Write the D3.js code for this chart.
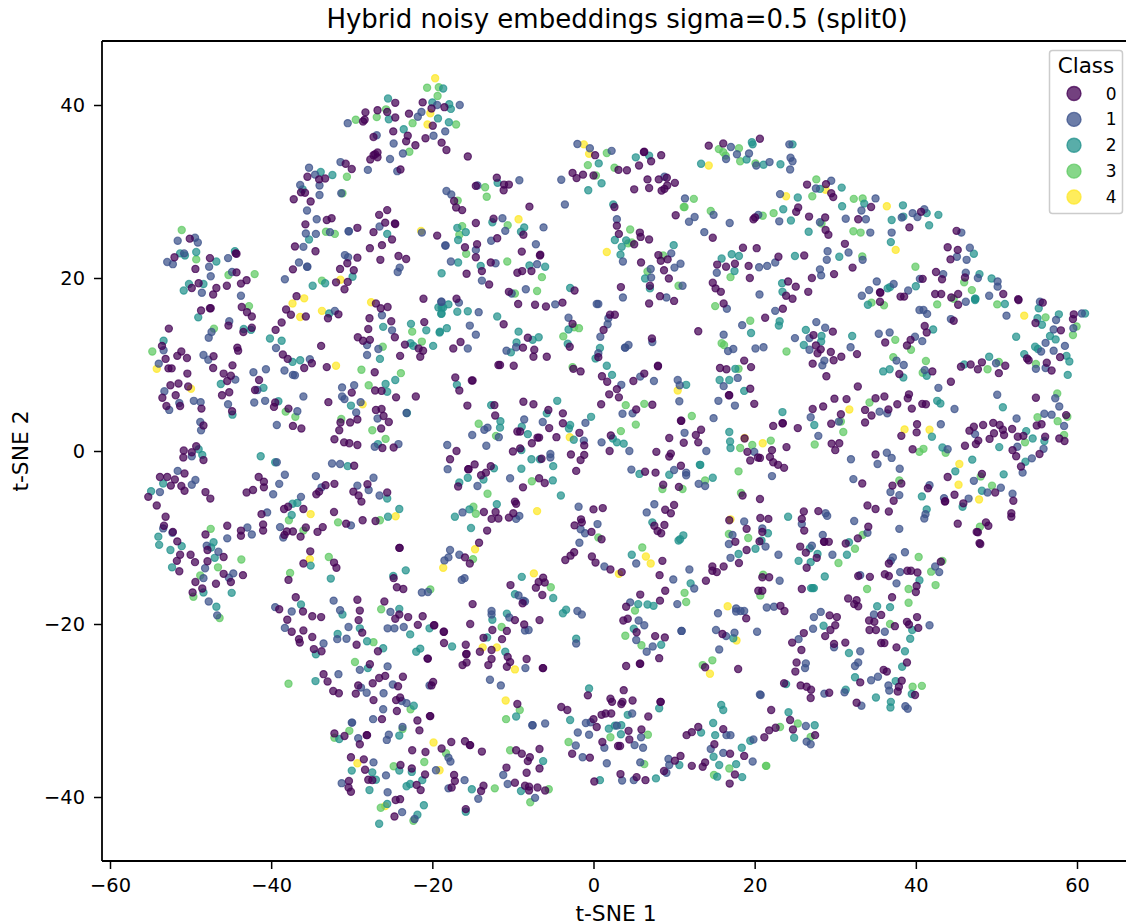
<!DOCTYPE html>
<html><head><meta charset="utf-8">
<script src="https://cdnjs.cloudflare.com/ajax/libs/d3/7.8.5/d3.min.js"></script>
<style>html,body{margin:0;padding:0;background:#fff}svg{display:block}text{font-family:"DejaVu Sans",sans-serif;fill:#000}</style>
</head><body><svg id="c" width="1126" height="923"></svg>
<script>
const chartTitle = "Hybrid noisy embeddings sigma=0.5 (split0)";
const xLabel = "t-SNE 1", yLabel = "t-SNE 2", legendTitle = "Class";
const xTicks = [-60,-40,-20,0,20,40,60];
const yTicks = [-40,-20,0,20,40];
const classNames = ["0","1","2","3","4"];
const classColors = ["#440154","#3b528b","#21918c","#5ec962","#fde725"];

const class0 = [[26.5,30.8],[28.85,30.85],[29.5,29.8],[29.75,29.35],[25.4,28.15],[25.15,27.65],[19.85,26.8],[20.05,27],
[-28.3,39.15],[-28.6,38.1],[-28.4,38.3],[-26.8,39.4],[-27.3,36.3],[-27.1,34.3],[-26.8,34.5],[-27.3,34.2],[-26.8,33.95],[-27.7,33.7],[-30.75,33.2],[-30,32.6],[-35.5,31.7],[-34.05,31.4],[-33.3,31.5],[-36.3,29.9],[-35.8,29.85],[-37.2,29.1],[-35.1,28.85],[-26.6,27.3],
[-50.1,24.55],[-52,22.4],[-47.6,22.3],[-44.4,22.85],[-44.3,22.8],[-49.4,21.05],[-44.3,20.65],[-49,19.4],[-49.85,18.85],[-46.8,18.85],[-47.2,18.1],[-45.5,19.1],[-43.75,19.35],[-43.05,19.75],[-48.7,16.25],[-47.6,16.5],[-47.5,16.5],[-43.65,16.65],[-43,16.05],[-42.4,15.55],[-45.3,14.5],[-43.45,13.75],[-42.4,14.25],[-52.7,14.15],[-53.55,12.15],[-51.15,11.5],[-51.65,11],[-50.45,10.75],[-53.1,10.65],[-47.15,10.95],[-44.2,11.95],[-44.1,11.6],[-52.75,9.55],[-52.35,9.55],[-47.2,9.6],[-44.8,9.9],[-50.4,8.95],[-45.9,8.95],[-45,8.7],[-45.45,8.1],[-52.5,7.6],[-51.5,7.8],[-50.3,7.45],[-51.85,6.45],[-53.5,6.15],[-45.2,6.8],[-46.1,6.45],[-51.3,5.2],[-53,5.2],[-48.65,4.9],[-44.85,4.6],[-48.4,2.95],[-42,7.05],[-41.5,8.2],[-39.5,5.6],[-39.65,5.1],[-37.85,4.9],[-37.3,2.9],[-36.25,2.6],[-32.9,5.65],[-30,6.75],[-31.4,3.3],[-30.2,3.3],[-29.3,3.65],[-31.55,2.4],[-26.35,2.6],[-27,4.75],[-26.3,4.85],[-26.05,4.05],[-25.4,3.35],[-32.15,1.35],[-30.95,1],[-30.3,0.9],[-29.3,0.7],[-26.2,0.35],[-24.8,0.4],[-50.85,0.05],[-49.3,0.55],[-49.85,-0.15],[-50.9,-0.75],[-48.4,-1.05],[-29.7,-1.7],[-50.75,-2.6],[-53.8,-3],[-52.9,-3],[-51.95,-3.3],[-52.45,-4],[-51.15,-4.05],[-50.75,-4.6],[-55.25,-5.3],[-54.2,-6.3],[-48.15,-4.75],[-47.55,-5.5],[-41.55,-3],[-40.9,-3.55],[-40.9,-4.2],[-42.25,-4.5],[-43.05,-4.8],[-33.25,-3.95],[-34.05,-4.7],[-34.4,-5],[-32.15,-3.8],[-28.05,-3.85],[-29.8,-4.7],[-29.15,-5.15],[-28.8,-5.85],[-25.6,-4.8],[-37.9,-6.45],[-38.4,-6.7],[-36,-6.7],
[-35.75,26.2],[-33.1,26.7],[-32.5,26.9],[-29.3,25.8],[-27.3,25.3],[-25.85,26.4],[-24.6,26.25],[-25,24.45],[-26.25,23.8],[-27.75,23.45],[-19.4,24.9],[-37.05,23.65],[-34.5,23.1],[-29.3,22.35],[-24.2,22.55],[-23.25,22.2],[-26.45,22.1],[-30.55,21.7],[-37.3,21],[-31.45,21.05],[-29.75,20.9],[-31.95,19.5],[-30.5,19.55],[-30.9,18.7],[-36.85,17.9],[-38.15,16.35],[-37.55,15.75],[-35.7,15.55],[-32.95,15.35],[-31.65,15.8],[-38.7,14.85],[-39.45,14],[-33.8,12.15],[-38.55,11.15],[-37.95,10.65],[-34.95,10.15],[-35.9,9.6],[-33.1,9.7],[-27.15,9.1],[-27.1,7],[-26.3,6.95],[-24.5,6.2],[-22.05,6.3],[-27,17.05],[-26.4,16.5],[-25.55,16.65],[-21.1,17.6],[-27.8,15.35],[-25.1,15],[-27.95,14.1],[-21,14.9],[-29.25,13.15],[-28.6,12.75],[-27.75,12.85],[-24.65,13.15],[-23.4,12.3],[-21.7,11.85],[-21.15,11.6],[-21.5,10.9],[-24,11],
[-24.6,40.25],[-21.2,40.3],[-18.5,39.75],[-20.1,39.6],[-25.6,39.2],[-24.6,38.55],[-22.9,39],[-19.95,37.6],[-24.85,36.95],[-20.85,36.15],[-23.05,36.45],[-23.25,35.8],[-22.1,35.35],[-18.85,35.65],[-18.25,34.8],[-15.6,34.05],[-23.95,32.55],[-12,31.6],[-14.6,30.65],[-11.1,30.8],[-10.5,30.8],[-11.15,30.15],[-17.3,28.9],[-17.05,28.15],[-16.3,27.85],[-7.95,28.25],[-12.4,26.85],[-14.6,26.35],[-8.7,25],[-11.95,24.6],[-14.45,23.9],[-15.95,23.55],[-25.6,27.85],[-24.65,26.3],[0.2,34.2],[3.1,32.5],[4.15,32.45],[-2.6,32.15],[-2.1,31.55],[-1.3,31.95],[0,31.85],[2.6,28.2],[2.9,26.05],[3.15,25.1],
[14.3,35.3],[16.1,35.55],[20.65,36.1],[6.25,34.55],[6.3,34.6],[8.4,34.2],[7.15,33.5],[5.65,33],[6.7,31.4],[8.1,31.4],[9.1,31.6],[10.1,31],[9.15,30.7],[8.8,30.3],[8.45,30.1],[6.9,30.4],[5.05,30.25],[10.2,27.25],[14.8,24.65],[5.75,25.25],[5.85,24.75],[6.9,24.45],[5.05,23.9],[8.05,22.65],[8.35,22],[9.2,22.15],[5.9,21.8],[8.75,20.9],[9.35,19.95],[7,19.1],[8.25,17.9],[10,17.35],[18.55,23.5],[20.25,23.45],[15.35,21.55],[16.45,21.3],[17.55,21.65],[19.25,21.4],[22.95,22.45],[26.15,22.6],[19.4,20],[14.8,19.45],[15.15,18.8],[15.8,18.4],[24.15,19.6],[25.1,19],[23.9,17.95],[24.7,17.6],[26.65,18.4],[27.1,20],[29.85,20.45],[32.15,21.2],[31.2,23.95],[28.75,27],[26.75,27.1],[28.8,25.55],[29.15,25],[32.85,26.8],[34.45,28.2],[39.2,25.85],[40.65,27.65],[45.05,25.45],[43.95,23.55],[45.2,23.25],[44.3,22.15],[42.5,20.7],[40.85,19.9],[43.25,19.85],[46.1,20.05],[35.55,18.35],[35.6,18.3],[38.1,17.85],[38.55,17.85],[42.4,18.15],[43.15,18.15],[44.4,17.75],[45.25,18.15],[50.85,18.15],[52.7,17.55],
[21.3,15.4],[23.5,16.45],[29.7,13.8],[27.3,13.4],[27.6,12.2],[28.2,11.75],[27.8,11.3],[29.45,11.45],[30.75,10.9],[29.8,10.5],[27.2,10.1],[28.9,8.65],[32.7,11.2],[35.55,17.25],[45.25,16.9],[44.7,15.05],[52.75,17.45],[55.75,17.15],[54.85,14.8],[59.6,15.8],[59.5,15.25],[58,13.95],[53.8,10.7],[54,10.5],[57.9,10.85],[56.25,10.2],[56.85,9.3],[36.2,12.55],[41.1,14.45],[41.35,13.7],[39.35,12.85],[38.9,12.2],[37.95,8.9],[42.05,9.2],[45.6,9.75],[46.8,10],[48.2,10.25],[51.1,9.85],[47.7,9.45],[50.3,9],[44.35,8],[32.8,7.45],[54.9,6.15],[39.15,6.55],[39,6.1],[36.1,6.3],[35,6.1],[31.4,6],[29.9,6.05],[28.5,5.15],[27.2,4.85],[33.7,4.75],[37.7,5.4],[39.5,4.9],[40.8,5.45],[41.25,5.4],[36.6,4.8],[34.5,4.1],[30.7,4.25],[23.45,3.2],[23.5,3.2],[22.3,2.9],[25.35,2.65],[29.5,3.15],[33.7,3.3],[29.55,0.85],[30.5,0.9],[30,0.1],[40.15,3.1],[40.1,2.15],[38.2,1.75],[22.15,0.1],[23.95,0.45],[21.9,-0.7],[22.3,-1.3],[22.9,-1.6],[23.65,-1.95],[20.66,-0.8],[39.6,0.2],[46.1,0.6],[46.65,2.35],[47.2,2.8],[48.35,3],[47.75,1.2],[47.45,0.8],[49.6,3.25],[50.4,3],[49.7,2.05],[49.15,1.4],[50.8,2.45],[50.95,1.85],[51.95,2.55],[52.65,1.65],[53.35,1.75],[55,2.95],[55.6,3.1],[58.65,4.15],[57.8,1.45],[58.45,1.15],[56.05,1.65],[52,0.1],[52.45,-0.6],[55.35,-0.35],[53.05,-1.8],[35,-0.4],[43.95,-3],[48.2,-2.65],[49.85,-4.8],[52.1,-5.75],[44.8,-5.05],[43.65,-5.8],[51.85,-7.2],[51.85,-7.6],[48.7,-8.25],[49,-8.65],[47.7,-9.4],[48,-10.75],[33.35,-3.75],[37.1,-4],[38.2,-3.75],[37.25,-5.75],[41.5,-4.3],[20.66,-5.55],
[-14.6,22.4],[-8.9,23.05],[-12.75,21.8],[-6.65,22.6],[-6.6,22.7],[-15.75,20.5],[-13.85,20.8],[-9.45,20.6],[-8.85,20.8],[-7.7,20.8],[-12.95,19.25],[3.4,18.95],[-10.5,18.4],[-2.35,18.55],[-17,17.6],[-9.35,17],[-7.25,16.9],[-5.9,16.7],[-3.85,17.15],[-11.15,14.65],[-2.6,14.7],[2.05,15.75],[2.65,15.75],[1.25,14],[-16.5,12.6],[-17.4,11.85],[-8.15,13.1],[-8.75,11.95],[-7.35,11.7],[-7.45,10.9],[-5.8,10.9],[-2.95,12.05],[0.6,10.85],[7.25,13],[-11.6,9.95],[-11.8,9.95],[-9.9,9.85],[-2.5,9.5],[-1.6,9.2],[1.05,8.65],[1.7,8],[2.9,7.15],[1.95,6.55],[3.15,6.2],[0.95,5.4],[-17.15,8.5],[-15.1,8.15],[-15,8.15],[-16.65,7],[4.95,8.1],[6.3,8.95],[8,9.8],[8,9.85],[13,13.85],[15.7,9.6],[6.9,17.05],[16.15,17.05],[18.7,10.45],[16.5,9.45],[19.55,9.7],[19.45,7.2],[16.8,6.45],[16.85,6.45],[19.95,5.45],
[-15.65,5.25],[-12.3,5.3],[-8.7,5.7],[-7.45,5.4],[-5.6,4.75],[-3.8,4.35],[-12.2,4.1],[-9.45,2.25],[-9.1,2.25],[-5.5,2.65],[-3.8,3.2],[-1.75,2.1],[-6.95,1.55],[-6.75,1.55],[-4.6,1.6],[-1.15,0.65],[-7.65,0.9],[7.3,5.35],[5.3,4.8],[2.15,1.8],[2,0],[10.85,3.5],[10.9,3.5],[13.35,2.45],[12.7,1.85],[9.4,1.5],[11.2,0.95],[13,1],[18.75,1.45],[19.1,-0.1],[19.45,-1.1],[20.4,-0.75],[-17,0],[-17.8,-0.95],[-10,-0.05],[-9.1,0.3],[-6.45,-0.9],[-2.8,-0.4],[-1.15,-0.45],[-1.6,-1.05],[-2.15,-2.3],[-14.75,-1.55],[-15.55,-2.1],[-15.5,-2.1],[-12.75,-1.75],[-13.35,-2.5],[-13.95,-2.8],[-16.8,-4.1],[-6.75,-3.15],[-6.05,-3.7],[-8.75,-4.2],[7.8,-0.1],[9.6,-0.3],[9.4,-0.65],[10.85,-1.7],[6.4,-2.4],[7.7,-2.5],[8.65,-3.9],[10.6,-4.15],[18.5,-5.15],
[-53.1,-7.6],[-53.3,-8.65],[-52.2,-9.35],[-51.65,-10.45],[-51.3,-12],[-50,-12],[-51.7,-12.7],[-49.45,-12.85],[-51.4,-13.9],[-48.15,-9.65],[-45.45,-8.65],[-43.75,-9.2],[-43.75,-9.8],[-41,-8.5],[-41,-9.2],[-47.9,-11.45],[-45.9,-12.25],[-47.9,-12.75],[-45.9,-14.2],[-43.5,-14.35],[-45,-15.15],[-46.85,-15.35],[-49.4,-15.15],[-48.55,-15.9],[-49.75,-16.35],[-41.2,-7.3],[-38.35,-9.7],[-38.05,-9.3],[-37.3,-9.3],[-36.35,-9.9],[-35.7,-8.85],[-34.25,-9.35],[-33.6,-8.8],[-32.2,-7.05],[-30.7,-8.4],[-28.65,-8],[-27.05,-8.1],[-35.15,-11.6],[-36,-13],[-32.2,-12.9],[-31.9,-13.5],[-37.85,-14.9],[-24.1,-11.2],[-24.05,-11.2],[-24.8,-14.7],[-24.4,-15.75],[-23.6,-15.95],[-15.95,-12.3],[-36.95,-16.9],[-39,-18.3],[-36.05,-18.55],[-38,-19.5],[-34.9,-19.1],[-33.8,-19.2],[-36,-20.75],[-37.45,-20.9],[-34.9,-21.5],[-36.55,-21.75],[-36.45,-22.15],[-34.7,-22.9],[-33.75,-23.15],[-29.3,-17.2],[-29,-18.45],[-29.15,-19.55],[-28.7,-21],[-29.4,-22.4],[-26.75,-23.15],[-25.95,-17.4],[-24.1,-18.9],[-24.6,-19.4],[-23,-19.2],[-21.2,-19.1],[-21.8,-20.1],[-19.8,-20.15],[-19.75,-20.15],[-18.6,-20.9],[-18.55,-20.9],[-18.55,-22.2],[-15.85,-22.4],[-15.8,-23.5],[-15.75,-23.45],[-20.6,-24],[-20.55,-24],[-27.75,-24.65],[-33.5,-25.8],[-33,-26.65],[-32.3,-27.75],[-31.6,-28],[-29.5,-28.05],[-29.2,-27.1],[-27.4,-26.85],[-26.6,-26.25],[-25.85,-26],[-23.65,-26.1],[-24.25,-27.2],[-27.3,-28.8],[-19.9,-26.7],[-20.1,-27.1],[-24,-28.5],[-24.5,-28.8],[-24.4,-30.05],[-20.3,-30.65],[-20.25,-30.65],[-26.25,-31],[-21.85,-31.15],[-21.6,-32.3],[-32.15,-32.65],[-30.9,-32.95],[-28.15,-32.85],[-28.1,-32.85],[-29,-33.9],[-17.65,-33.65],[-15.95,-33.55],[-18.85,-34.4],[-22.5,-34.6],[-20.85,-34.8],[-30.1,-35.4],[-28.5,-35.65],[-28.35,-36.85],[-23.95,-36.3],[-22.55,-36.7],[-20.9,-37.4],[-27.95,-38],[-27.45,-38.05],[-30.35,-38.15],[-30.4,-38.9],[-30.1,-39.4],[-21.95,-38.6],[-21.45,-39.2],[-17.3,-37.45],[-17.2,-38.15],[-17.6,-38.9],[-24.55,-40.35],[-24,-40.25],[-24.7,-42.25],
[-9.75,-5.85],[-9.6,-6.1],[-13.6,-7.05],[-12.15,-7.05],[-12.65,-7.85],[-11.8,-7.8],[-10.5,-7.7],[-9.95,-7.2],[-13.2,-9.2],[-14.2,-10.6],[-15.35,-13],[0,-6.75],[1.15,-6.6],[-1.55,-7.9],[-1.45,-8.25],[-2.35,-8.6],[-0.25,-9.35],[1,-10.2],[-2.4,-11.7],[-2.85,-12.1],[-3.5,-12.6],[-0.2,-12.2],[0.25,-12.9],[2.1,-13.7],[3.5,-14],[8.9,-6.8],[10,-6.25],[9.6,-7.2],[7.55,-8.65],[7.95,-9.25],[8.8,-8.55],[8.4,-9.5],[8.55,-12.7],[8.2,-14.35],[8.9,-16.15],[8.25,-17.3],[5.8,-16.6],[4.05,-18],[3.7,-19.6],[4.25,-19.4],[5.35,-20.95],[7.65,-21.4],[8.85,-21.55],[8.15,-23.95],[5.75,-24.6],[5.8,-24.6],[4.05,-24.85],[-6.25,-14.65],[-6.8,-15.15],[-6.05,-15.2],[-7.15,-15.8],[-10.3,-15.5],[-6.35,-16.65],[-8.8,-17.6],[-15,-17.7],[-9.75,-19.55],[-6.7,-19.55],[-15.3,-20],[-8.6,-20.05],[-12.55,-20.7],[-10.75,-20.8],[-13.65,-21.6],[-11.35,-21.75],[-14.1,-23.2],[-12.65,-23],[-10.65,-23.8],[-10.35,-24.4],[-12.65,-24.05],[-8.3,-24.05],[-15.75,-24.45],[-16.25,-24.75],[-13.05,-24.75],[-10.75,-24.95],[-6.3,-25.1],[-6.25,-25.1],[-9.45,-29.25],[-4,-29.6],[-3.25,-29.95],[-0.7,-28.25],[3.75,-27.65],[2.1,-28.65],[2.3,-29],[4.85,-28.85],[3.6,-29],[3.45,-29.25],[8.3,-29],[8.35,-29],[2.2,-30.35],[1.5,-30.35],[1,-30.5],[6.8,-30.7],[0,-31],[0.4,-31.9],[4.35,-32.35],[5.95,-32.2],[4.45,-33.35],[1.1,-33.65],[3.05,-34.1],[3.3,-34.1],[-2.65,-35],[-0.45,-35.45],[10.1,-35.8],[10.8,-35.25],[8.75,-37],[12.2,-36.4],[3.35,-37.35],[5.35,-37.7],[6.45,-38.05],[0.1,-38.2],[-15.35,-34],[-15.3,-34],[-13.85,-34.75],[-9.6,-34.6],[-8.9,-35],[-7.9,-35.4],[-8.15,-35.85],[-6.7,-34.45],[-10.8,-36.6],[-6.7,-36.7],[-8.3,-37.2],[-9.75,-38.35],[-13.65,-38.7],[-13.95,-39.3],[-8.5,-38.7],[-8,-38.8],[-8,-39.25],[-6.95,-38.9],[-6,-39.25],[-15.85,-41.4],[11.55,-32.85],[12.2,-32.5],[13,-31.9],
[16.85,-8],[20.7,-7.75],[21.7,-7.85],[19,-9],[20.95,-9.35],[17.6,-10.5],[20.6,-10.45],[19,-11.45],[18.05,-12.95],[14.75,-13.35],[14.75,-13.85],[15.3,-14],[16.15,-13.35],[13.95,-15],[20.95,-14.6],[21.8,-14.6],[20.45,-16.15],[20.95,-16.15],[25.85,-15.95],[18.95,-19.35],[23.2,-17.9],[23.7,-18.5],[16,-21.15],[13.85,-25],[17.95,-25.2],[26.1,-7],[27.9,-6.95],[25.85,-7.85],[26.15,-9.2],[28.6,-10.5],[28.65,-10.5],[29.2,-10.5],[34.1,-8.75],[32.8,-10.1],[31.3,-10.7],[25.65,-11.05],[26.35,-11.75],[27.7,-12.35],[26.45,-13.5],[34,-6.3],[35,-6.7],[36.65,-7],[45.2,-8.4],[45.9,-6.05],[43.6,-5.85],[47.55,-9.35],[47.9,-10.65],[36.65,-13],[43.1,-12.8],[40.2,-14.05],[39.4,-13.85],[38.95,-13.85],[36.15,-14.25],[36.65,-14.45],[40.1,-15.6],[40,-16.3],[37.05,-16.9],[34.3,-14.55],[32.85,-14.45],[31.6,-17.05],[32.65,-17.25],[32.35,-17.7],[32.85,-17.95],[29.3,-19],[30.2,-19.2],[30,-20.15],[29.4,-20.7],[28.75,-21.4],[26.1,-21.05],[24.65,-22.15],[25.8,-23],[25.2,-24.45],[25.05,-25.5],[29.85,-22.3],[31.25,-22.15],[35.7,-18.95],[34.2,-19.6],[34.85,-19.75],[34.25,-20.7],[35.05,-20.7],[37.4,-20.25],[38.9,-19.75],[39.15,-20.05],[40.15,-19.2],[40.3,-20.45],[35.7,-22.2],[36.1,-22.2],[37.6,-22.7],[38.9,-24.45],[36,-25.3],[36.4,-25.5],[33.1,-26.75],[38.25,-26.55],[37.9,-27.25],[37.75,-27.8],[39.9,-28.2],[29.25,-27.95],[32.65,-29.1],[23.65,-26.85],[25.7,-27.1],[26.45,-27.25],[27,-27.6],[26.95,-28.55],[22.05,-29.95],[16.1,-32.15],[24.4,-31.1],[24.75,-32.2],[22.6,-32],[21.8,-32.3],[21.2,-33.1],[27.5,-32.85],[15,-33.9],[16.95,-35],[18.7,-35.25],[13.85,-36],[13.55,-36.5],[17.55,-37.4],[16.9,-38.45]];

const class1 = [[29.5,31.25],[27.6,30.35],[23.15,29.7],[23.05,26.55],[20.45,27.3],
[-30.5,37.9],[-26.9,36.5],[-31.4,33.4],[-28,32.5],[-35.3,32.75],[-34.55,31.95],[-36.4,30.75],[-34,30.7],[-34,29.6],[-31.3,29.8],[-35.55,27.8],[-34.35,26.8],
[-49.45,24.65],[-51.6,24.3],[-49.1,24.1],[-50.8,22.85],[-52.9,21.85],[-52.2,21.6],[-47.7,21.3],[-45.35,22.3],[-47.5,20.2],[-44.85,20.7],[-48.6,18.3],[-43.75,17.95],[-45.2,15],[-47.4,13.75],[-47.75,13.1],[-53.35,11.65],[-48.4,11.1],[-47.8,10.55],[-53.95,10.1],[-44.45,8.25],[-42.2,9.1],[-40.65,9.45],[-53.25,6.9],[-49.6,5.8],[-48.75,5.65],[-51.4,5.55],[-52.65,4.75],[-45.35,5.4],[-48.8,3.35],[-48.7,2.4],[-42.1,5.6],[-40.75,5.8],[-41.7,7.05],[-36.75,4.6],[-39.3,3],[-36,6.3],[-31.2,7.35],[-29.7,7.6],[-31.2,6.3],[-30.9,6],[-28.9,5.65],[-29.45,4.45],[-26.8,3.75],[-23.2,4.4],[-27.15,0.5],[-24.2,0.8],[-49.85,-0.6],[-39.3,-1.3],[-32.45,-1.45],[-31.45,-1.5],[-51.6,-2.3],[-49.4,-3.35],[-49.85,-3.9],[-53.8,-4.75],[-38.3,-2.75],[-39,-3.8],[-39.75,-5],[-34.45,-2.9],[-33.75,-4.2],[-27.3,-3.1],[-29.3,-4],[-27.9,-4.5],[-26.55,-5.15],[-36.3,-5.3],
[-35.7,25.15],[-34.45,25.1],[-32.7,25.3],[-30.4,25.4],[-30.35,25.4],[-26.55,25.95],[-21.3,25.25],[-36,23.6],[-30.85,22.65],[-30.45,22.4],[-36.55,21.8],[-35.55,21.3],[-35.5,21.3],[-24.05,21.2],[-24.3,20.7],[-38.3,19.85],[-26.25,15.7],[-25,13.95],[-28.1,12.25],[-26.7,11.8],[-28.1,11.1],[-32.1,16.2],[-39.4,11.9],[-35.2,10.6],[-38.35,9.3],[-37.3,8.8],[-37.05,8.75],[-18.9,17.25],
[-19.4,40],[-16.6,40],[-21.35,39.2],[-21.8,38.65],[-18.4,36.95],[-19.85,36.45],[-24.8,35.55],[-23.65,34.4],[-25.25,33.75],[-24.35,32.35],[-14.4,30.7],[-9.2,31.3],[-18.25,30.05],[-17.65,29.65],[-11.3,26.9],[-10.95,25.45],[-6.2,25.85],[-12.7,24.3],[-7.15,23.9],[-18.4,23.75],[-18.35,23.75],[-14.6,23.25],[-2,35.5],[-0.45,35],[2.25,34.7],[-4,31.35],[-3.55,28.5],[2.9,26.8],
[17.05,35.15],[16.45,33.75],[17.8,34.3],[19.3,34.4],[20.2,33],[21.85,33.4],[24.3,35.45],[24.45,33.9],[24.7,33.5],[24.4,32.55],[8.8,31.7],[11.35,29.2],[12.55,27.05],[11.85,26.5],[14.9,27.3],[16.9,26.35],[13.75,25.3],[9.65,22.85],[10.8,21.65],[10.05,21.2],[7.1,21.05],[7.15,20.05],[11.05,19.1],[9.05,17.75],[20.55,21.25],[21.55,21.4],[22.55,21.8],[15.3,20.6],[20.6,18.1],[28.25,20.3],[28.1,21],[33.4,22.1],[31.65,22.95],[28.95,22.1],[29.05,23.1],[28.1,26.45],[34.35,25.25],[31.3,26.85],[33.8,26.8],[33.25,27.8],[35,29.2],[38.25,27],[37,25.25],[39.6,27.5],[40.2,27.05],[41.05,27.95],[45.65,25.25],[46.7,23.5],[45.1,22.45],[46.3,22.1],[43.4,20.45],[40.5,19.9],[46.2,20.6],[47.7,20],[50.15,19.6],[50.15,19],[35.15,19.6],[37.25,19.3],[39.05,18.55],[34.2,18.6],[33.3,17.95],[49.1,17.95],
[22.55,16.2],[27.65,14.9],[28.75,14.25],[26.8,13.05],[25,13.05],[26.8,11.7],[28.65,10.45],[28.4,9.9],[31.9,12],[21.1,12],[40.45,16.3],[40.95,16.3],[41.4,15.85],[46.2,17.25],[51.25,15.65],[44.35,15.25],[55.4,17.25],[57.4,15.15],[60.6,15.9],[59.55,14.2],[57.1,14.05],[56.1,12.5],[58.5,12.15],[55.55,11.5],[57.1,11.6],[54.9,9.5],[56.1,9.6],[35.4,13.55],[36.75,13.7],[39.9,13.2],[40.8,12.7],[37.6,10.45],[38.5,9.95],[41.1,9.35],[49.95,10.15],[42.8,7.3],[50.1,6.5],[57.3,6.1],[57.8,5.15],[44.8,4.85],[35.5,4.55],[36.45,4.35],[26.95,3.9],[30.45,3.4],[27.9,1.75],[43.1,3.1],[47.35,1.95],[22.15,-2.9],[43.95,0.2],[52.5,3.75],[55.95,4.3],[56.85,4.2],[58.4,2.9],[52.6,0.5],[55.85,0.25],[54.4,-0.85],[53.25,-2.5],[31.95,-0.95],[36.4,-0.2],[37,-0.8],[35.25,-1.5],[38,-2.05],[47.2,-3.45],[50.55,-4.25],[52,-4.95],[48.9,-4.8],[46.55,-5.5],[43.5,-5.45],[32.25,-3.25],[36.85,-4.75],[37.95,-5.1],[41.7,-3.95],
[-17.7,21.9],[3.65,21.9],[-12.15,21.7],[-7,21.6],[-13.85,19.7],[3.65,17.75],[-10.15,18.2],[-8.4,18.7],[-16.7,17.15],[-18.85,17.25],[-14.25,16.05],[-4.75,16.95],[0.4,17],[0.6,17],[-3.1,15.4],[1.85,15.35],[1.75,14.65],[0.85,13.2],[-15.35,14.5],[-14.6,13.45],[-15.6,11.85],[-9.6,12],[-10.8,11.6],[0.6,11.3],[4.35,12.25],[3.9,11.95],[3.95,11.95],[7.3,12.6],[3.45,7.65],[5.8,8.6],[7.5,8.1],[10.45,8.2],[10.7,7.6],[10.65,5.75],[16.15,13.45],[18.45,14.55],[16.55,16.45],[16.7,11.55],[17.35,11.8],[20.1,11.85],[17.9,8.45],[16.15,7.5],[15.5,5.8],[17.55,5.25],
[-13.15,2.7],[-13.55,2.45],[-15.05,1.85],[-11.75,1.6],[-8.6,3.65],[-6.3,3.35],[-1,3.25],[-1.2,1.2],[4.85,4.35],[3.6,4.3],[1,1],[4.45,0],[14.9,3.8],[11.3,2.1],[14,0],[19.95,-0.1],[-18.15,0.7],[-18.1,-2.1],[-13.3,0.6],[-5.35,-0.35],[-5.35,-0.75],[-10.35,-3.15],[-14.4,-4.05],[4.7,-2.15],[10,-2.2],[11.5,-2.5],[11.5,-2.8],[13.05,-3.8],[13.85,-4.05],
[-53.4,-8.95],[-52.25,-9.45],[-45.45,-10.1],[-42.95,-8.85],[-42.4,-9.65],[-48,-10.95],[-46.55,-11.65],[-48.2,-13.55],[-48.4,-14.7],[-44.7,-14.15],[-45.25,-14.65],[-47.75,-17.4],[-46.7,-19],[-40.5,-7.1],[-38.9,-8.8],[-38.5,-10],[-30.1,-8.6],[-16.25,-7.1],[-21.3,-16.35],[-20.55,-16.3],[-17.8,-11.45],[-16.65,-12],[-18,-12.3],[-18.5,-12.65],[-16,-14.7],[-16.35,-14.9],[-39.5,-18.05],[-37.45,-18.55],[-38.3,-20.45],[-33.5,-22.25],[-32.25,-17.3],[-31.45,-18.4],[-30.4,-20.35],[-31.8,-21.75],[-30.65,-21.7],[-25.2,-18.6],[-25.55,-20.5],[-24.7,-20.5],[-23.55,-20.35],[-29,-25.3],[-25.55,-24.9],[-31.65,-25.8],[-28.85,-27.35],[-28.15,-27.95],[-24.9,-27],[-26.05,-28],[-20.35,-27.1],[-23.8,-28.9],[-23.2,-29.15],[-26.1,-29.85],[-27.35,-31],[-23.7,-31.9],[-30,-31.4],[-29.95,-31.4],[-29.2,-33.2],[-25.4,-32.8],[-25.65,-33.4],[-18,-35.45],[-17.75,-35.9],[-27.3,-36],[-19.55,-36.9],[-25.75,-37.5],[-31.25,-38.4],[-18,-39],[-25.55,-39.45],[-23.75,-41.75],[-22.2,-42.55],
[-9.6,-7.85],[-9.2,-7.5],[-1.85,-6.45],[0.5,-8.45],[-1.6,-9.05],[-1.05,-9.5],[-1.75,-10.6],[1.35,-13.35],[7.55,-6.15],[6.6,-7.1],[5.3,-13],[9.9,-14.85],[11.9,-13.7],[12.5,-15.9],[10.4,-17.7],[4.55,-17.5],[5.6,-19.6],[6.3,-20.15],[5.3,-21.85],[7.35,-22.6],[6.6,-23.2],[10.9,-20.8],[10.95,-20.8],[-9.3,-16.7],[-8.7,-17.3],[-8.5,-17.4],[-2,-18.5],[-1.45,-18.9],[-12.65,-18.5],[-12.65,-18.9],[-10.45,-19.25],[-8.5,-20.75],[-8.05,-20.7],[-2.15,-22.25],[-8.45,-25.1],[-12.85,-26.45],[-11.5,-27.1],[-7.6,-31.7],[-7.55,-31.7],[-6,-31.5],[4.8,-30.35],[-0.95,-31.45],[-0.35,-31.35],[2.9,-31.75],[-1.95,-32.55],[-0.55,-32.8],[5.9,-33.1],[-2.2,-34.05],[1.35,-34.3],[5.1,-34],[6.15,-34.3],[-1.35,-35.4],[1.65,-36.1],[5.8,-36],[9.3,-35.6],[9.4,-36.3],[9.05,-37.2],[5,-38.05],[3.55,-38.1],[-11.2,-37.45],[-16,-38.05],[-10.65,-38.5],[-14.3,-40.2],[-7.25,-40.1],
[18.7,-8.15],[20.95,-8.95],[17.25,-9.7],[16.8,-10.75],[21.35,-11.05],[17,-12.35],[22.95,-12],[23.1,-15],[17.7,-18.2],[17.7,-18.55],[18.25,-18.5],[18.7,-18.5],[15.45,-18.75],[21.5,-18.1],[22.4,-18],[15.2,-20.7],[16.45,-21.4],[17.5,-21],[20.3,-20.9],[15.6,-22.95],[28.8,-7.2],[29,-7.5],[25.85,-8.45],[32.35,-8.1],[28.45,-9.7],[34,-9.45],[29.65,-12],[27.1,-10.95],[37.95,-9],[41.2,-7.3],[41.05,-7.8],[38.65,-11.7],[37.15,-12.3],[36.9,-12.7],[42.4,-13.35],[42.9,-14],[38.05,-14],[37.6,-15.3],[33.1,-14.35],[28.2,-18.6],[27.35,-19.2],[27.25,-20.55],[25.45,-21.75],[26.35,-24.55],[26.25,-25.1],[29.85,-22.7],[33.1,-23.15],[32.85,-24.45],[32.45,-24.85],[34.8,-18.9],[36.15,-20.9],[41.7,-20.15],[35.3,-26.1],[34.45,-26.5],[36.6,-27.1],[36.7,-27.7],[31.15,-27.9],[28.65,-28.05],[38.7,-29.5],[39,-29.8],[33.25,-29.45],[20.65,-28.15],[20.75,-28.2],[16.5,-32.85],[17,-32.85],[26.35,-31.8],[26.45,-33.6],[26.95,-33.9],[19.85,-33.35],[14.55,-34.45],[16.1,-34.9],[19.75,-35.9]];

const class2 = [[28.1,30.3],[30.8,30.45],[25.35,29.3],[23.55,27.95],[24.5,26.65],
[-33.85,32.25],[-32.4,31.9],[-36.1,30.25],
[-51.3,22.85],[-50.7,22.6],[-49.3,23],[-46.8,21.9],[-44.5,23.1],[-50.2,19.3],[-48.4,19.3],[-50.85,18.55],[-49.05,15.45],[-43.4,14.1],[-42.5,14],[-53.35,12.75],[-46.25,7.75],[-44.8,4.2],[-40.95,7.3],[-39.1,5.75],[-30.1,5.25],[-23.15,4.4],[-26.75,0.8],[-49,0.2],[-48.55,-0.45],[-41.3,-0.6],[-39.5,-1.3],[-30.5,-1.75],[-53.4,-3.75],[-54.9,-4.65],[-25.6,-5.5],[-37.35,-6.1],[-36.75,-6],[-24.1,-6.7],
[-25.6,25.1],[-35.3,24.45],[-29.9,20.15],[-34.85,19.1],[-33.3,19.4],[-32.8,15.9],[-40.15,13],[-38.7,12.75],[-37.35,10.3],[-36.4,10.5],[-25.8,7.75],[-24.6,8.2],[-25.6,6.85],[-26.1,14.35],[-22.65,14.7],[-20.75,13.95],[-19.1,13.7],[-22.7,12.45],[-22.35,12.15],[-19.9,12.15],[-26.5,10.65],[-19.25,16.6],[-18.85,16.6],[-18.9,15.85],
[-18.65,41.9],[-25.5,40.75],[-20,40.3],[-17.9,40.1],[-17.7,39.55],[-25.4,38.35],[-19.3,38.45],[-17.95,38],[-23.55,37.2],[-11.9,31],[-12.55,26.45],[-8.6,25.85],[-9,25.35],[-16.9,25.8],[-15.85,25.3],[-16.8,24.4],[0.65,33.25],[1,30.95],[-0.65,30.15],[2.45,28.5],[2.65,24.4],[4.05,24.35],[3.5,23.6],
[19,33.7],[19.65,35.7],[19.75,35.45],[21.1,33.1],[23.2,33.15],[24.7,35.45],[13.35,33.2],[5.25,33.95],[6.9,34.15],[9.95,23.8],[6.4,19.95],[7,18.8],[30.85,28.3],[15.9,22.25],[17.15,22.75],[18.05,22.55],[17.5,20.8],[23.4,19.4],[23.45,18.4],[25,22.55],[30.5,22.45],[26.7,25.35],[33.6,28.6],[38.4,28.4],[37,26.7],[38.45,27.1],[36.9,24.15],[41.35,27.5],[42.8,27.3],[41.65,26.1],[47.2,22.8],[47.9,20.45],[49.4,19.95],[36.8,18.95],[36.5,18.8],[40,19.05],[47.35,17.6],[47.4,17.6],[47.35,17.45],
[23.1,15],[23,14.5],[26.35,14],[28.3,13.3],[28.25,12.65],[26.1,12.25],[32.1,13.3],[34.05,16.9],[42.15,14.05],[51.05,17],[55.25,16.5],[55.1,15.35],[55.65,14.6],[57.75,15.8],[61,15.9],[56.65,13.3],[57.35,12.9],[52.45,13.2],[54.8,12.05],[55.15,11.8],[53.45,11.2],[58.7,11],[59.05,10.35],[58.85,8.8],[36.75,9.45],[35.95,9.2],[38.45,8.5],[41.35,8.7],[46,10],[49.1,10.9],[50.8,5.05],[42.65,5.8],[43.05,5.5],[23.45,4.5],[27.4,3],[42,1.65],[43.3,0.4],[53.7,2.3],[54.5,1.45],[50.35,0.45],[55.95,1.15],[53.6,-1.25],[47,-1],[44.9,-2.35],[50.9,-2.7],[48.2,-4.6],[40.75,-5.25],
[3.35,22.7],[-16.8,21.8],[-14,21.4],[-7.95,21.45],[-6,21.3],[-18.85,20.55],[-2.9,18.85],[-18,16.95],[-18.65,16.6],[-18.85,15.9],[-16.9,16.1],[-15.6,16.15],[-11.95,15.55],[-3.1,14.05],[-18.2,14.2],[-19.05,13.8],[-9.3,13.8],[-7.55,12.85],[-6.8,13.15],[-9.55,12.55],[-10.25,11.4],[-3.2,12.4],[0.8,11.9],[0.25,10.7],[1.65,9.85],[2.3,8.8],[-16.95,7.65],[11.5,7.65],[19.55,13.65],[17.6,9.5],[15.65,8.2],[16.85,8.2],[18.7,6.95],
[-12.7,5.3],[-4.5,5.8],[-5.8,4.35],[-11.55,3.45],[-11.6,2.7],[-8.9,2.8],[-8.15,1.95],[-2.9,3],[-3.05,2.6],[-0.3,3.95],[-2.45,1.3],[2.4,1.45],[2.9,1],[3.75,0.85],[16.85,2.2],[16.95,1.1],[17,0.35],[-8.95,0.1],[-7.7,-0.95],[-6.65,-0.95],[-5,-1.75],[-12.35,-2],[-8.95,-2.05],[-13.65,-3.3],[-15.6,-3.1],[-16.65,-3.65],[-5.05,-3.4],[-4.05,-5.15],[13.2,-1.6],[13.25,-1.6],[5.7,-2.65],[9.4,-2.75],[14.8,-3.1],
[-54,-9.9],[-53.9,-10.85],[-51.1,-11],[-52.5,-11.45],[-52.3,-13.45],[-47.15,-10.55],[-47.45,-11.15],[-47,-12.35],[-48.4,-16.35],[-44.9,-16.4],[-46.8,-18],[-37.45,-7.4],[-25.5,-7.6],[-17.2,-7.6],[-35.1,-13.25],[-32.6,-14.75],[-23.3,-13.8],[-24.85,-14.45],[-36.3,-17.75],[-34.45,-23.5],[-31.15,-18.9],[-29,-20.5],[-31.75,-21.15],[-28.1,-22],[-26.1,-22.8],[-24.1,-18.25],[-20.35,-20.5],[-22.75,-21.2],[-17.55,-22.6],[-22,-23.2],[-21.5,-22.85],[-28,-25.1],[-34.5,-26.6],[-22.3,-29.45],[-24.1,-32.9],[-31.55,-33.3],[-30,-36.95],[-24.1,-36.95],[-22.55,-37.1],[-27.45,-37.15],[-27,-38],[-27.8,-39.2],[-21.25,-38.05],[-22.75,-38.5],[-23.2,-38.75],[-21.05,-40.95],[-25.6,-40.8],[-21.85,-42.05],[-26.6,-43.1],
[-12,-6.15],[-15.4,-6.75],[-15.2,-8.9],[7.3,-8.25],[11.15,-9.75],[10.75,-10.2],[10.55,-10.35],[4.75,-12],[12.05,-15.3],[5.55,-17.7],[6.7,-17.75],[7.45,-17.9],[5,-20.55],[8.4,-22.4],[-8.9,-14.55],[-9.75,-16.55],[-5,-17],[-3.4,-18.35],[-3.8,-18.75],[-12.55,-19.5],[-10.75,-18.8],[-13.2,-21.55],[-2.15,-21.7],[-10.95,-23.2],[-9.6,-30.7],[-2.9,-31.1],[-0.55,-27.45],[8.15,-29.75],[4.25,-30.5],[2.65,-31.75],[3.45,-31.7],[1.9,-32.1],[3.4,-32.75],[10.65,-36.3],[7.75,-37.85],[0.8,-38.05],[-6.25,-35.85],[-15.1,-39.1],[-9,-39.3],[-15.85,-41.7],
[24.15,-7.6],[21.65,-9.5],[20.85,-10.35],[20.1,-11.3],[18,-11.9],[27,-15.85],[27.35,-15.85],[27.2,-15.85],[17.35,-21.65],[31.7,-10.55],[31.45,-12],[26.85,-11.25],[27.8,-11.9],[25.45,-12.7],[26.95,-12.85],[28.7,-14.5],[41.35,-6.75],[45.8,-6.45],[40.45,-14.95],[36.8,-18.05],[35.2,-17.95],[28.55,-20.2],[31.7,-23.35],[39.55,-20.7],[39.3,-21.7],[38.65,-23.15],[38.3,-24.95],[32.45,-26.15],[37.5,-26.6],[39.5,-28.1],[31.3,-27.6],[35.05,-28.5],[36.9,-29],[36.85,-29.65],[23.9,-26.95],[15.85,-29.35],[16.1,-29.95],[24.2,-30.2],[14.85,-31.45],[15.1,-32.85],[13.35,-32.55],[27.45,-31.7],[24.9,-33.15],[19.45,-33.5],[18.4,-34.3],[14.9,-35.35],[15.6,-36.3],[17.7,-36.2],[15.35,-37.65],[18.45,-37.7]];

const class3 = [[27.65,31.4],[27.15,29.45],[22.35,27.5],[21,27.2],
[-29.5,38.3],[-26.9,38.6],[-30.6,31.7],[-31.15,29.8],
[-51.1,25.55],[-49.3,22.15],[-45.3,20.35],[-42.05,20.45],[-42.75,16.75],[-47.1,14.15],[-54.75,11.5],[-38.2,4.55],[-37,3.95],[-31.3,3.7],[-27.45,2.4],[-25.8,1.4],
[-33.2,25.35],[-32.1,25.1],[-33.7,19.7],[-28.8,9.4],[-23.9,9],[-27.9,7.6],[-22.5,13.8],[-26.15,12.05],[-21.3,12.65],
[-20.65,42],[-19.2,42.05],[-19.35,41.05],[-25.75,39.5],[-22.45,37.9],[-17.05,37.75],[-22.85,34.6],[-13.45,30.5],[-13.25,29.4],[-16.85,28.95],[-10.65,26.1],[-16.3,26],[-16.65,25],[1.65,34.45],[-0.7,33.05],[2.6,32.75],[0.3,31.85],[4.55,25.6],[4.3,24],
[15.55,34.9],[16.1,34.55],[16.4,34.15],[18.05,35],[18.2,33.5],[20.1,33.25],[12.45,29.15],[11.2,28.2],[11.3,28.2],[14.55,27.75],[4.75,24.1],[8.65,22.6],[6.7,20.75],[10.55,19.1],[17,20.1],[28.3,26.3],[32.25,25.4],[33.15,25.25],[33.35,22.5],[33.4,29.2],[32.3,29.15],[39.95,21.3],[46,19.5],[44.7,17.6],[46.95,18.6],
[23.95,11.5],[34.5,17.15],[36.05,16.85],[42.65,16.95],[50.1,16.95],[56.1,15.45],[59.95,14.4],[59.5,13.4],[54.9,10.05],[37.45,12.85],[39.4,11.7],[37.2,10.85],[41.25,10.4],[40.85,9.05],[50.3,10.3],[48.9,9.45],[57.55,6.65],[34.25,5.6],[30.7,3.4],[31,2.2],[27.45,0.75],[22,1.2],[40.45,-0.1],[40.95,0.25],[43.7,-0.2],[53.55,1],[55.1,3.9],[58.8,3.95],[57.6,3.45],[58.4,1.85],[48.05,-2.95],[49.45,-4],[37.95,-3.4],
[-15.8,22.8],[-10.7,21.9],[-6.4,20.1],[-9.75,18.2],[-7,18.5],[-2.4,14.3],[-1.8,14.2],[-3.75,13.25],[-2.6,9.7],[19.45,15.05],[15.1,16.75],[15.9,12.45],[16.2,12.25],[18,9.5],
[-14.25,3.15],[-12.1,1.75],[4,5.3],[6.3,5.45],[5.25,3.05],[3.4,2.3],[12.2,4.05],[18.2,0.35],[19.7,0.7],[-13.15,-4.95],[-7.65,-3.5],[18,-2.35],[13.85,-3.4],[8.55,-4.4],[11.05,-4.4],[18.3,-4.85],
[-47.5,-9],[-43.7,-12.55],[-46.6,-13.45],[-48.8,-14.4],[-49.65,-16.85],[-46.4,-19.3],[-37.8,-8],[-36,-9.2],[-31.7,-8.25],[-26.5,-8],[-32.85,-12.25],[-37.65,-14.1],[-20.25,-16],[-26.35,-18.3],[-27.3,-22.1],[-22.7,-29.85],[-29.6,-24.4],[-37.85,-26.9],[-23.7,-32.15],[-30.3,-32.35],[-32.15,-33.15],[-18.3,-34.95],[-21,-35.95],[-24.8,-36.45],[-26.4,-41.25],[-22.35,-42.75],
[-14.9,-6.45],[-14.6,-7.25],[-14.95,-12.5],[0.6,-10],[6.05,-11.15],[11.3,-16.4],[11.5,-17.45],[5.15,-18.45],[3.95,-21.35],[5.95,-22.45],[-5.3,-15.75],[-11.4,-20.35],[-9.15,-29.95],[-10.85,-31],[2.1,-33.1],[6.75,-32.8],[-3.1,-33.65],[6.3,-36.2],[-10.35,-34.6],[-12.25,-39],[-5.55,-39.1],[-7.85,-40.6],
[16.8,-9.6],[19.2,-10.05],[21.05,-14.3],[20.7,-16.7],[14.75,-24.2],[13.55,-24.75],[33.4,-9.7],[32.45,-11.3],[30.4,-12.95],[47.95,-8.75],[40.35,-12.25],[43.3,-12.7],[41.9,-13.95],[42.45,-15.5],[39.1,-15.95],[39.1,-17.55],[33.95,-15.95],[36.8,-20],[39.6,-27.25],[40.75,-27.15],[25.35,-31.5],[23.15,-31.9],[26.95,-33.05],[16.85,-36.7],[21.4,-36.4],[21.45,-36.4],[14.95,-37.45]];

const class4 = [[28.8,30.2],[23.9,29.45],[-54.2,9.5],[-49.95,7.2],[-28.65,5.4],[-21.4,25.45],[-31.4,19.8],[-35.9,17.65],[-37.35,17.05],[-36.4,15.5],[-33.7,16.2],[-31.95,9.85],[-27.6,17.2],[-19.65,43.1],[-20.25,39.05],[-20.6,37.75],[-9.3,26.8],[-1.2,35.45],[-0.55,34.35],[1.65,23],[14.3,33],[36.4,28.3],[37.5,23.25],[53.45,15.65],[31.75,4.8],[38.6,2.5],[41.7,2.45],[21,0.9],[45.4,-1.5],[45.3,-3.9],[47.85,-5.6],[10.45,7],[18.75,1.5],[-2.95,1.6],[-35.1,-7.3],[-24.55,-7.55],[-35.2,-12.5],[-18.65,-13.5],[-19.85,-33.7],[-29.3,-36.1],[-19.1,-36.9],[-25.85,-41.05],[-7,-6.95],[-14.7,-11.35],[3.15,-14.2],[6.5,-12.2],[7.1,-13],[-7.4,-14.15],[-13.75,-22.7],[-12,-22.7],[-9.75,-25.25],[-10.9,-28.85],[17,-7.9],[16.65,-17.95],[17.75,-21.9],[14.45,-25.75]];

const W = 1126, H = 923;
const m = {left:102, right:1132, top:41, bottom:861};
const x = d3.scaleLinear().domain([-60,60]).range([110,1077]);
const y = d3.scaleLinear().domain([-40,40]).range([797,105]);
const svg = d3.select("#c");

const allClasses = [class0,class1,class2,class3,class4];
const layer = svg.append("g");
[4,3,2,1,0].forEach(k=>{
  layer.append("g").selectAll("circle").data(allClasses[k]).join("circle")
    .attr("cx",d=>x(d[0])).attr("cy",d=>y(d[1])).attr("r",3.6)
    .attr("fill",classColors[k]).attr("fill-opacity",0.72)
    .attr("stroke",classColors[k]).attr("stroke-opacity",0.72).attr("stroke-width",1.2);
});

const bottomG = svg.append("g").attr("transform",`translate(0,${m.bottom})`)
  .call(d3.axisBottom(x).tickValues(xTicks).tickSize(8).tickPadding(9).tickFormat(d3.format("d")));
const leftG = svg.append("g").attr("transform",`translate(${m.left},0)`)
  .call(d3.axisLeft(y).tickValues(yTicks).tickSize(8).tickPadding(9).tickFormat(d3.format("d")));
[bottomG,leftG].forEach(g=>{
  g.select(".domain").remove();
  g.selectAll("line").attr("stroke","#000").attr("stroke-width",1.5);
  g.selectAll("text").style("font-size","19.4px").style("font-family","DejaVu Sans");
});
const spine = (x1,y1,x2,y2)=>svg.append("line").attr("x1",x1).attr("y1",y1).attr("x2",x2).attr("y2",y2).attr("stroke","#000").attr("stroke-width",1.8);
spine(m.left,m.top,m.right,m.top);
spine(m.left,m.bottom,m.right,m.bottom);
spine(m.left,m.top,m.left,m.bottom);

svg.append("text").attr("x",617).attr("y",28).attr("text-anchor","middle").style("font-size","26px").text(chartTitle);
svg.append("text").attr("x",616).attr("y",921).attr("text-anchor","middle").style("font-size","21.8px").text(xLabel);
svg.append("text").attr("transform","translate(28,451) rotate(-90)").attr("text-anchor","middle").style("font-size","21.8px").text(yLabel);

const lg = svg.append("g");
lg.append("rect").attr("x",1049.5).attr("y",50.5).attr("width",73).attr("height",163).attr("rx",3).attr("fill","#fff").attr("fill-opacity",0.8).attr("stroke","#ccc").attr("stroke-width",1.5);
lg.append("text").attr("x",1086).attr("y",73).attr("text-anchor","middle").style("font-size","21.5px").text(legendTitle);
const legendY = d3.scalePoint().domain(classNames).range([93.5,197]);
classNames.forEach((c,i)=>{
  lg.append("circle").attr("cx",1074).attr("cy",legendY(c)).attr("r",7)
    .attr("fill",classColors[i]).attr("fill-opacity",0.75).attr("stroke",classColors[i]).attr("stroke-opacity",0.75).attr("stroke-width",1.4);
  lg.append("text").attr("x",1116.5).attr("y",legendY(c)+6).attr("text-anchor","end").style("font-size","17px").text(c);
});
</script></body></html>
